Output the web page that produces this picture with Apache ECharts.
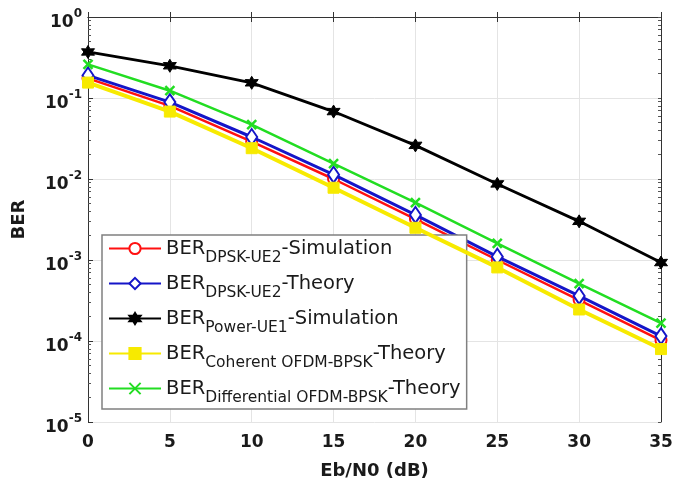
<!DOCTYPE html>
<html>
<head>
<meta charset="utf-8">
<script src="https://cdn.jsdelivr.net/npm/echarts@6/dist/echarts.min.js"></script>
<style>
  html, body { margin: 0; padding: 0; background: #fff; }
  #chart { width: 676px; height: 485px; }
</style>
</head>
<body>
<div id="chart"></div>
<script>
// Eb/N0 (dB)
var snr = [0, 5, 10, 15, 20, 25, 30, 35];

// BER curves
var berDpskSim      = [0.175, 0.080, 0.029, 0.0100, 0.0032, 0.00100, 0.00032, 0.000102];
var berDpskTheory   = [0.19, 0.089, 0.033, 0.0113, 0.0036, 0.0011, 0.00036, 0.000115];
var berPowerSim     = [0.37, 0.25, 0.154, 0.068, 0.026, 0.0087, 0.0030, 0.00093];
var berCoherent     = [0.155, 0.068, 0.024, 0.0078, 0.0025, 0.00081, 0.000245, 0.0000795];
var berDifferential = [0.26, 0.123, 0.047, 0.0155, 0.0051, 0.0016, 0.00051, 0.000166];

// legend text: BER_{sub}suffix
var legendSub    = ['DPSK-UE2', 'DPSK-UE2', 'Power-UE1', 'Coherent OFDM-BPSK', 'Differential OFDM-BPSK'];
var legendSuffix = ['-Simulation', '-Theory', '-Simulation', '-Theory', '-Theory'];

var FONT = '"DejaVu Sans", Arial, sans-serif';
var TXT = '#1a1a1a';

// minor ticks of the log axis, in log10 units (decoration axis)
var minorTicks = [];
var allTicks = [];
for (var d = -5; d < 0; d++) {
  allTicks.push(d);
  for (var k = 2; k <= 9; k++) {
    minorTicks.push(d + Math.log10(k));
    allTicks.push(d + Math.log10(k));
  }
}
allTicks.push(0);

// six-point star for the Power-UE1 curve
function starPath() {
  var p = [];
  for (var i = 0; i < 12; i++) {
    var r = i % 2 === 0 ? 10 : 5.5;
    var a = Math.PI / 2 + i * Math.PI / 6;
    p.push((i === 0 ? 'M' : 'L') + (10 + r * Math.cos(a)).toFixed(2) + ',' + (10 - r * Math.sin(a)).toFixed(2));
  }
  return 'path://' + p.join('') + 'Z';
}

function pairs(arr) {
  return snr.map(function (x, i) { return [x, arr[i]]; });
}

var names = legendSub.map(function (s, i) { return 'BER_' + s + legendSuffix[i] + '_' + i; });

var seriesStyle = [
  { color: '#ff1010', width: 2.5, symbol: 'emptyCircle', size: 11, bw: 2 },
  { color: '#1515c8', width: 3, symbol: 'emptyDiamond', size: [11, 16], bw: 2 },
  { color: '#000000', width: 2.8, symbol: starPath(), size: 13, bw: 1 },
  { color: '#f7ea00', width: 4, symbol: 'rect', size: 11, bw: 1 },
  { color: '#22dd22', width: 2.5, symbol: 'path://M0,0L10,10M10,0L0,10', size: 9, bw: 2.5 }
];
var seriesData = [berDpskSim, berDpskTheory, berPowerSim, berCoherent, berDifferential];

var series = seriesData.map(function (arr, i) {
  var st = seriesStyle[i];
  return {
    name: names[i],
    type: 'line',
    data: pairs(arr),
    symbol: st.symbol,
    symbolSize: st.size,
    showAllSymbol: true,
    lineStyle: { color: st.color, width: st.width },
    itemStyle: { color: st.color, borderColor: st.color, borderWidth: st.bw },
    z: 2 + i,
    animation: false
  };
});

var chart = echarts.init(document.getElementById('chart'), null, { renderer: 'canvas' });

chart.setOption({
  animation: false,
  backgroundColor: '#fff',
  grid: { left: 88, right: 15, top: 17, bottom: 62 },
  legend: {
    orient: 'vertical',
    left: 102,
    top: 235,
    padding: [4, 6, 3, 6],
    itemGap: 8,
    itemWidth: 52,
    itemHeight: 14,
    backgroundColor: '#fff',
    borderColor: '#808080',
    borderWidth: 1.5,
    data: names,
    formatter: function (name) {
      var i = names.indexOf(name);
      return '{m|BER}{s|' + legendSub[i] + '}{m|' + legendSuffix[i] + '}';
    },
    textStyle: {
      rich: {
        m: { fontFamily: FONT, fontSize: 19.5, color: TXT, lineHeight: 19, verticalAlign: 'top' },
        s: { fontFamily: FONT, fontSize: 15.5, color: TXT, lineHeight: 15, verticalAlign: 'top', padding: [11, 0, 0, 0] }
      }
    }
  },
  xAxis: [
    {
      type: 'value',
      min: 0, max: 35, interval: 5,
      position: 'bottom',
      name: 'Eb/N0 (dB)',
      nameLocation: 'middle',
      nameGap: 40,
      nameTextStyle: { fontFamily: FONT, fontSize: 18, fontWeight: 'bold', color: TXT },
      axisLine: { show: true, lineStyle: { color: '#333', width: 1 } },
      axisTick: { show: true, inside: true, length: 5, lineStyle: { color: '#333' } },
      axisLabel: { fontFamily: FONT, fontSize: 17, fontWeight: 'bold', color: TXT, margin: 12 },
      splitLine: { show: true, lineStyle: { color: '#e4e4e4', width: 1 } }
    },
    {
      type: 'value',
      min: 0, max: 35, interval: 5,
      position: 'top',
      axisLine: { show: true, lineStyle: { color: '#333', width: 1 } },
      axisTick: { show: true, inside: true, length: 5, lineStyle: { color: '#333' } },
      axisLabel: { show: false },
      splitLine: { show: false }
    }
  ],
  yAxis: [
    {
      type: 'log',
      logBase: 10,
      min: 1e-5, max: 1,
      position: 'left',
      name: 'BER',
      nameLocation: 'middle',
      nameRotate: 90,
      nameGap: 60,
      nameTextStyle: { fontFamily: FONT, fontSize: 18, fontWeight: 'bold', color: TXT },
      axisLine: { show: true, lineStyle: { color: '#333', width: 1 } },
      axisTick: { show: true, inside: true, length: 5, lineStyle: { color: '#333' } },
      axisLabel: {
        margin: 6,
        formatter: function (v) {
          var e = Math.round(Math.log10(v));
          return '{b|10}{e|' + e + '}';
        },
        rich: {
          b: { fontFamily: FONT, fontSize: 17, fontWeight: 'bold', color: TXT, lineHeight: 18, verticalAlign: 'top', padding: [6, 0, 0, 0] },
          e: { fontFamily: FONT, fontSize: 12, fontWeight: 'bold', color: TXT, lineHeight: 14, verticalAlign: 'top' }
        }
      },
      splitLine: { show: true, lineStyle: { color: '#e4e4e4', width: 1 } }
    },
    {
      type: 'value',
      min: -5, max: 0,
      position: 'left',
      axisLine: { show: false },
      axisTick: { show: true, inside: true, length: 3, customValues: minorTicks, lineStyle: { color: '#555' } },
      axisLabel: { show: false },
      splitLine: { show: false }
    },
    {
      type: 'value',
      min: -5, max: 0,
      position: 'right',
      axisLine: { show: true, lineStyle: { color: '#333', width: 1 } },
      axisTick: { show: true, inside: true, length: 3, customValues: allTicks, lineStyle: { color: '#555' } },
      axisLabel: { show: false },
      splitLine: { show: false }
    }
  ],
  series: series
});
</script>
</body>
</html>
